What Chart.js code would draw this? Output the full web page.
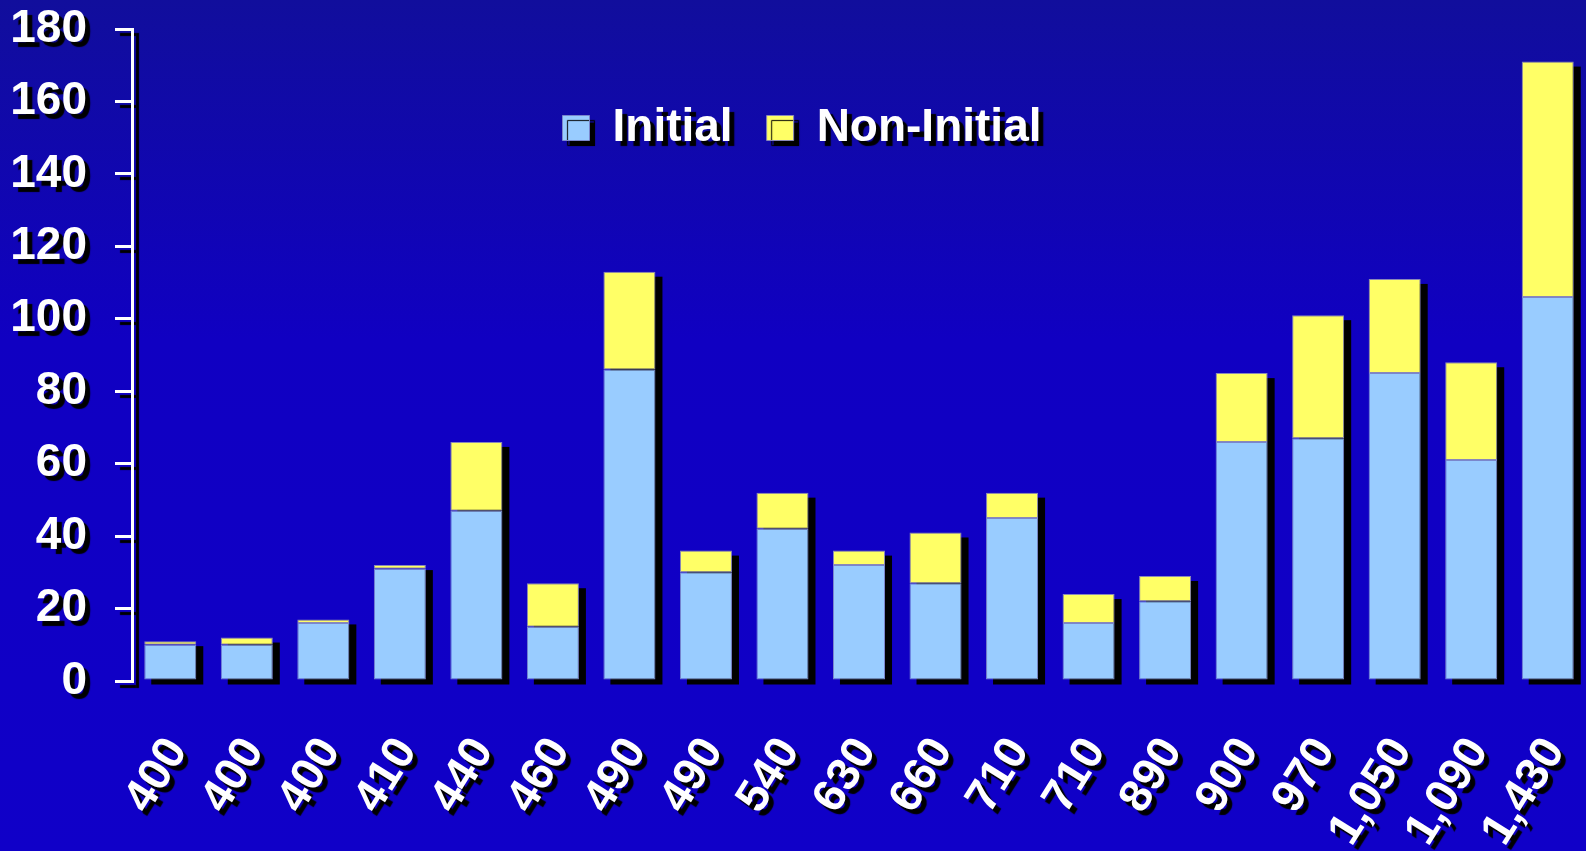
<!DOCTYPE html>
<html><head><meta charset="utf-8">
<script src="https://cdn.jsdelivr.net/npm/chart.js@4/dist/chart.umd.min.js"></script>
<style>
html,body{margin:0;padding:0;width:1586px;height:851px;overflow:hidden;}
body{background:linear-gradient(to bottom,#110E9C 0px,#1000C2 340px,#1000C8 851px);}
canvas{display:block;}
</style></head><body>
<canvas id="c" width="1586" height="851"></canvas>
<script>
const categories = ['400','400','400','410','440','460','490','490','540','630','660','710','710','890','900','970','1,050','1,090','1,430'];
const initialValues = [10,10,16,31,47,15,86,30,42,32,27,45,16,22,66,67,85,61,106];
const nonInitialValues = [1,2,1,1,19,12,27,6,10,4,14,7,8,7,19,34,26,27,65];
const seriesNames = ['Initial','Non-Initial'];
const yTickValues = [0,20,40,60,80,100,120,140,160,180];

const FONT = "'Liberation Sans',Arial,sans-serif";
const FSIZE = 46;

const shadowPlugin = {
  id: 'shadows',
  beforeLayout(chart) {
    const lg = chart.legend;
    if (lg && !lg._patchedFit) {
      const origFit = lg.fit.bind(lg);
      lg.fit = function () { origFit(); this._realHeight = this.height; this.height = 0; };
      lg._patchedFit = true;
    }
  },
  afterUpdate(chart) {
    const lg = chart.legend;
    if (!lg) return;
    const h = lg._realHeight || 0;
    const dx = 9;
    lg.left += dx; lg.right += dx;
    lg.top = 71; lg.height = h; lg.bottom = lg.top + h;
    if (lg.adjustHitBoxes) lg.adjustHitBoxes();
  },
  beforeDraw(chart) {
    const c = chart.ctx;
    c.save();
    c.shadowColor = 'rgba(0,0,0,1)';
    c.shadowOffsetX = 5; c.shadowOffsetY = 5; c.shadowBlur = 1;
  },
  beforeDatasetsDraw(chart) {
    const c = chart.ctx;
    c.restore();
    const m0 = chart.getDatasetMeta(0), m1 = chart.getDatasetMeta(1);
    c.save();
    c.fillStyle = '#000';
    m0.data.forEach((b0, i) => {
      const b1 = m1.data[i];
      const top = Math.min(b0.y, b1.y);
      const w = b0.width;
      c.fillRect(b0.x - w / 2 + 7, top + 5, w, b0.base - top);
    });
    c.restore();
  }
};

new Chart(document.getElementById('c'), {
  type: 'bar',
  data: {
    labels: categories,
    datasets: [
      { label: seriesNames[0], data: initialValues, backgroundColor: '#99CCFF', borderColor: '#7A86CC', borderWidth: 1, borderSkipped: false },
      { label: seriesNames[1], data: nonInitialValues, backgroundColor: '#FFFF66', borderColor: '#8A88B8', borderWidth: 1, borderSkipped: false }
    ]
  },
  options: {
    responsive: false,
    animation: false,
    events: [],
    layout: { padding: { top: 29, left: 0, right: 0, bottom: 0 } },
    datasets: { bar: { categoryPercentage: 1, barPercentage: 0.68 } },
    plugins: {
      tooltip: { enabled: false },
      legend: {
        position: 'top',
        align: 'center',
        labels: {
          color: '#FFFFFF',
          font: { family: FONT, size: FSIZE, weight: 'bold' },
          boxWidth: 27, boxHeight: 25, padding: 34
        }
      }
    },
    scales: {
      x: {
        stacked: true,
        grid: { display: false },
        border: { display: false },
        ticks: {
          color: '#FFFFFF', autoSkip: false, minRotation: 58, maxRotation: 58, padding: 42, labelOffset: 7,
          font: { family: FONT, size: FSIZE, weight: 'bold', lineHeight: 1 }
        },
        afterFit(s) { s.height = 170; s.paddingLeft = 0; s.paddingRight = 0; }
      },
      y: {
        stacked: true,
        min: yTickValues[0], max: yTickValues[yTickValues.length - 1],
        afterBuildTicks(s) { s.ticks = yTickValues.map(v => ({ value: v })); },
        grid: { drawOnChartArea: false, drawTicks: true, tickLength: 17, color: '#FFFFFF', lineWidth: 3 },
        border: { display: true, color: '#FFFFFF', width: 3 },
        ticks: {
          color: '#FFFFFF', padding: 28,
          font: { family: FONT, size: FSIZE, weight: 'bold', lineHeight: 1 }
        },
        afterFit(s) { s.width = 132; s.paddingTop = 0; s.paddingBottom = 0; }
      }
    }
  },
  plugins: [shadowPlugin]
});
</script>
</body></html>
